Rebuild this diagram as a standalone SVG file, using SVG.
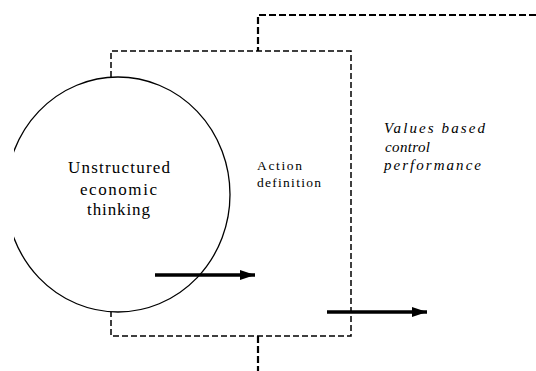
<svg xmlns="http://www.w3.org/2000/svg" width="536" height="371" viewBox="0 0 536 371">
<style>
.serif{font-family:"Liberation Serif","Times New Roman",serif;fill:#000}
.dash1{fill:none;stroke:#000;stroke-width:1.5;stroke-dasharray:6 3}
.dash2{fill:none;stroke:#000;stroke-width:2.2;stroke-dasharray:7 3}
.arrow{stroke:#000;stroke-width:3.5;fill:none}
</style>
<defs>
<clipPath id="clipL"><rect x="14" y="0" width="522" height="371"/></clipPath>
<marker id="ah" markerUnits="userSpaceOnUse" markerWidth="16" markerHeight="12" refX="15" refY="6" orient="auto"><path d="M0,1 L15,6 L0,11 Z" fill="#000"/></marker>
</defs>
<g id="connectors">
<path class="dash2" d="M536,15 H258 V51"/>
<path class="dash2" d="M258,336 V371"/>
<path class="dash1" d="M111,77 V51 H351 V336 H111 V312"/>
<line class="arrow" x1="155" y1="275" x2="255" y2="275" marker-end="url(#ah)"/>
<line class="arrow" x1="327" y1="312" x2="427" y2="312" marker-end="url(#ah)"/>
</g>
<g id="node-unstructured">
<ellipse cx="118" cy="194.5" rx="112" ry="117.5" fill="none" stroke="#000" stroke-width="1.3" clip-path="url(#clipL)"/>
<text class="serif" font-size="17" x="68" y="173" textLength="102" lengthAdjust="spacing">Unstructured</text>
<text class="serif" font-size="17" x="80" y="195" textLength="77" lengthAdjust="spacing">economic</text>
<text class="serif" font-size="17" x="87" y="215" textLength="63" lengthAdjust="spacing">thinking</text>
</g>
<g id="node-action">
<text class="serif" font-size="13.5" x="257" y="170" textLength="45" lengthAdjust="spacing">Action</text>
<text class="serif" font-size="13.5" x="257" y="187" textLength="64" lengthAdjust="spacing">definition</text>
</g>
<g id="node-values">
<text class="serif" font-size="15" font-style="italic" x="384" y="133" textLength="101" lengthAdjust="spacing">Values based</text>
<text class="serif" font-size="15" font-style="italic" x="385" y="152" textLength="45" lengthAdjust="spacing">control</text>
<text class="serif" font-size="15" font-style="italic" x="384" y="170" textLength="97" lengthAdjust="spacing">performance</text>
</g>
</svg>
